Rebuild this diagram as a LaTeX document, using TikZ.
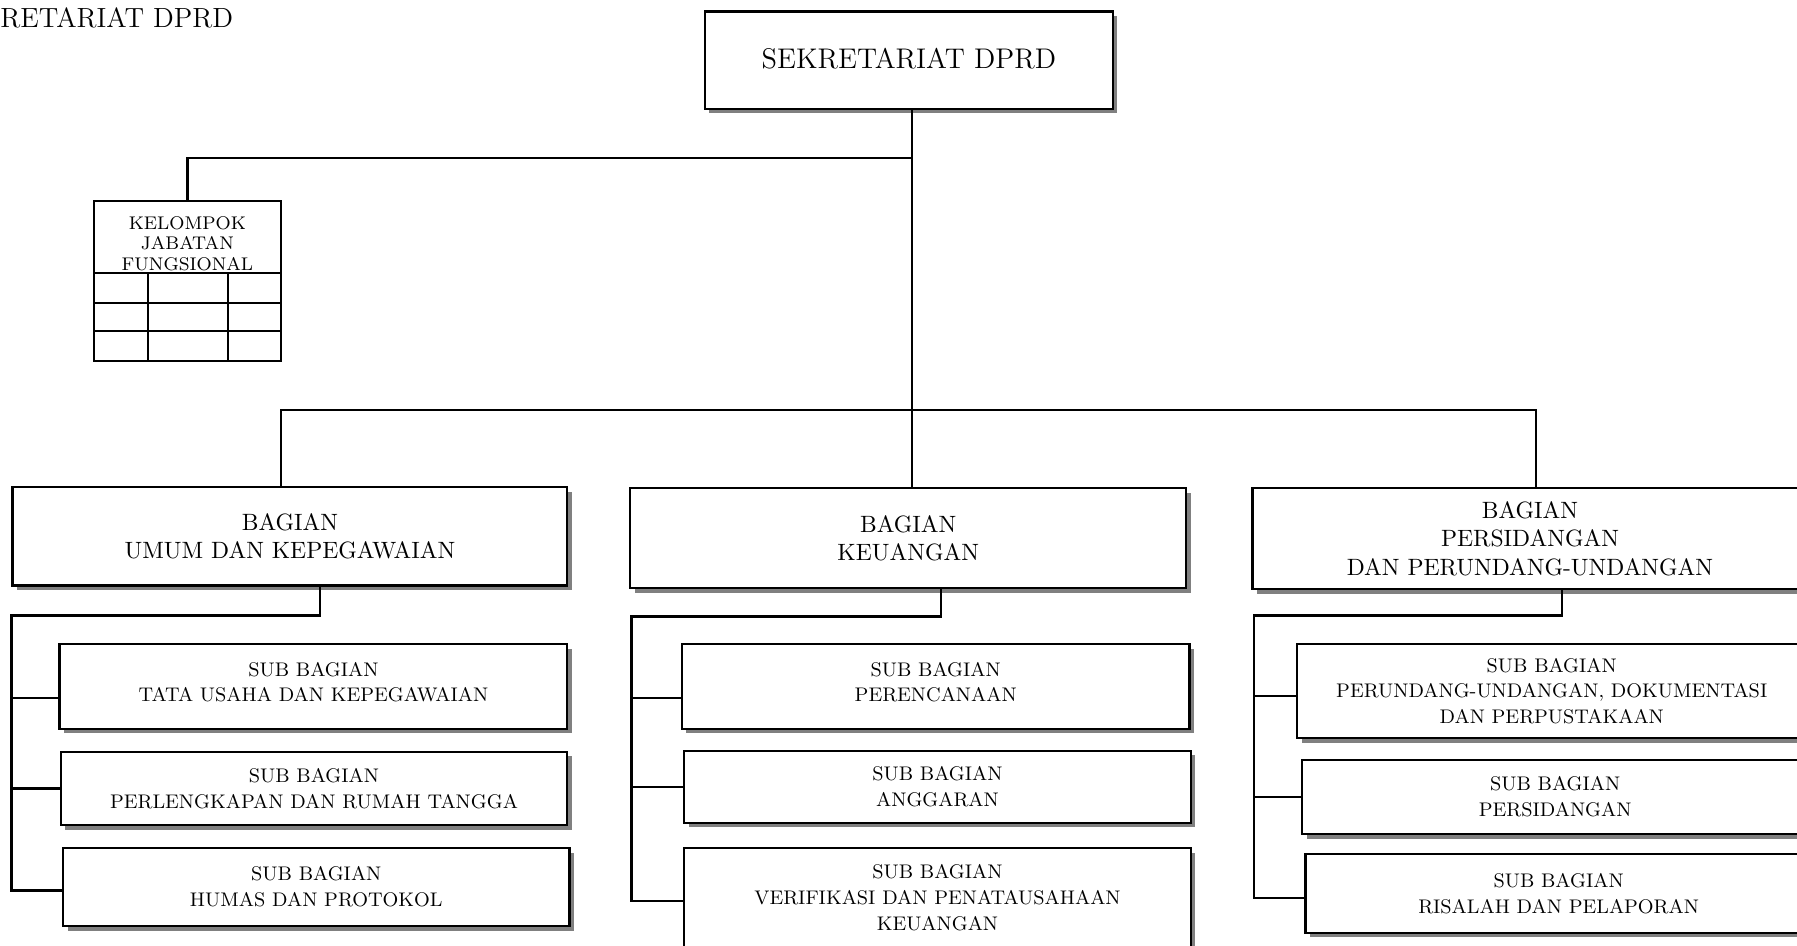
\documentclass[tikz,border=0pt]{standalone}
\usetikzlibrary{shadows}

\tikzset{
	unitbox/.style={draw,line width=1pt,fill=white,align=center,inner sep=2pt,
		drop shadow={shadow xshift=2pt,shadow yshift=-2pt,fill=black!50,opacity=1}},
	topbox/.style={unitbox,font=\fontsize{12.4}{15}\selectfont},
	bagbox/.style={unitbox,font=\fontsize{10.3}{12.3}\selectfont},
	subbox/.style={unitbox,font=\fontsize{8.6}{11.3}\selectfont},
	link/.style={line width=1pt},
}

\begin{document}
\begin{tikzpicture}[x=0.5pt,y=-0.5pt]
		\clip (0,0) rectangle (1568,825);

		\node (title) at (0,24) [anchor=base west,inner sep=0pt,font=\fontsize{12.1}{14}\selectfont] {RETARIAT DPRD};

		\node (sek) at (793,52.5) [topbox,minimum width=178pt,minimum height=42.5pt,text depth=2pt] {SEKRETARIAT DPRD};

		% kelompok jabatan fungsional
		\node (kel) at (163.5,245) [draw,line width=0.9pt,minimum width=81.5pt,minimum height=70pt,inner sep=0pt] {};
		\node (keltext) at (163.5,212.5) [align=center,inner sep=0pt,font=\fontsize{8}{9}\selectfont] {KELOMPOK\\JABATAN\\FUNGSIONAL};
		\draw [line width=0.9pt] (82,238) -- (245,238) (82,264) -- (245,264) (82,289) -- (245,289);
		\draw [line width=0.9pt] (129,238) -- (129,315) (199,238) -- (199,315);

		% bagian
		\node (umum) at (253,468) [bagbox,minimum width=242pt,minimum height=43pt] {BAGIAN\\UMUM DAN KEPEGAWAIAN};
		\node (keu) at (792.5,469.5) [bagbox,minimum width=242.5pt,minimum height=43.5pt] {BAGIAN\\KEUANGAN};
		\node (pers) at (1335,470) [bagbox,minimum width=242pt,minimum height=44pt] {BAGIAN\\PERSIDANGAN\\DAN PERUNDANG-UNDANGAN};

		% sub bagian
		\node (tu) at (273.5,599) [subbox,minimum width=221.5pt,minimum height=37pt,text depth=4pt] {SUB BAGIAN\\TATA USAHA DAN KEPEGAWAIAN};
		\node (rt) at (274,688) [subbox,minimum width=221pt,minimum height=32pt] {SUB BAGIAN\\PERLENGKAPAN DAN RUMAH TANGGA};
		\node (hum) at (276,774) [subbox,minimum width=221pt,minimum height=34pt] {SUB BAGIAN\\HUMAS DAN PROTOKOL};

		\node (ren) at (816.5,599) [subbox,minimum width=221.5pt,minimum height=37pt,text depth=4pt] {SUB BAGIAN\\PERENCANAAN};
		\node (ang) at (818,686.5) [subbox,minimum width=221pt,minimum height=31.5pt] {SUB BAGIAN\\ANGGARAN};
		\node (ver) at (818,783) [subbox,minimum width=221pt,minimum height=43pt] {SUB BAGIAN\\VERIFIKASI DAN PENATAUSAHAAN\\KEUANGAN};

		\node (dok) at (1354,603) [subbox,minimum width=222pt,minimum height=41pt] {SUB BAGIAN\\PERUNDANG-UNDANGAN, DOKUMENTASI\\DAN PERPUSTAKAAN};
		\node (sid) at (1357,695.5) [subbox,minimum width=221pt,minimum height=32.5pt] {SUB BAGIAN\\PERSIDANGAN};
		\node (ris) at (1360,779.5) [subbox,minimum width=221pt,minimum height=34.5pt] {SUB BAGIAN\\RISALAH DAN PELAPORAN};

		% garis komando
		\coordinate (bar) at (796,358);
		\coordinate (kelbar) at (796,138);
		\draw [link] (sek.south -| bar) -- (bar |- keu.north);
		\draw [link] (kelbar) -| (kel.north);
		\draw [link] ([xshift=-4pt]umum.north) |- (bar) -| ([xshift=2.5pt]pers.north);

		\coordinate (umumbus) at (10,537);
		\coordinate (tuin) at ([yshift=-5pt]tu.west);
		\draw [link] ([xshift=13pt]umum.south) |- (umumbus) |- ([yshift=-1.5pt]hum.west);
		\draw [link] (umumbus |- tuin) -- (tuin);
		\draw [link] (umumbus |- rt.west) -- (rt.west);

		\coordinate (keubus) at (551,538);
		\coordinate (renin) at ([yshift=-5pt]ren.west);
		\draw [link] ([xshift=14.25pt]keu.south) |- (keubus) |- ([yshift=-1.5pt]ver.west);
		\draw [link] (keubus |- renin) -- (renin);
		\draw [link] (keubus |- ang.west) -- (ang.west);

		\coordinate (persbus) at (1094,537);
		\coordinate (dokin) at ([yshift=-2pt]dok.west);
		\draw [link] ([xshift=14pt]pers.south) |- (persbus) |- ([yshift=-2pt]ris.west);
		\draw [link] (persbus |- dokin) -- (dokin);
		\draw [link] (persbus |- sid.west) -- (sid.west);
	\end{tikzpicture}
\end{document}
